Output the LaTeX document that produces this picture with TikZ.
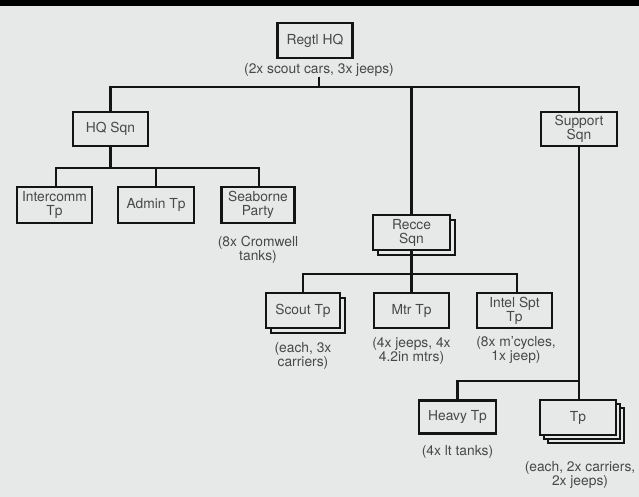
\documentclass[tikz,border=0pt]{standalone}
\usepackage{fontspec}
\setmainfont{TeX Gyre Heros}
\usetikzlibrary{shadows}
\definecolor{bg}{RGB}{230,233,231}
\definecolor{txt}{RGB}{72,72,72}
\definecolor{ink}{RGB}{20,20,20}
\begin{document}
\begin{tikzpicture}[x=1pt,y=-1pt,
  unit/.style={draw=ink,line width=2.2pt,fill=bg,text=txt,align=center,inner sep=0pt,
    minimum width=75pt,minimum height=35pt,font=\fontsize{13.8}{14}\selectfont},
  one/.style={copy shadow={shadow xshift=5pt,shadow yshift=-5pt}},
  two/.style={double copy shadow={shadow xshift=4pt,shadow yshift=-4pt}},
  note/.style={text=txt,align=center,inner sep=0pt,font=\fontsize{13.8}{14}\selectfont},
  link/.style={draw=ink,line width=2.2pt}]
\fill[bg] (0,0) rectangle (639,497);
\fill[black] (0,0) rectangle (639,6);
\useasboundingbox (0,0) rectangle (639,497);
\coordinate (b1) at (0,87);
\coordinate (b2) at (0,168);
\coordinate (b3) at (0,274);
\coordinate (b4) at (0,381);
% nodes
\node[unit] (hq) at (315,40.5) {Regtl HQ};
\node[note] (hqlab) at (319,70) {(2x scout cars, 3x jeeps)};
\node[unit,minimum height=34pt] (hqsqn) at (110.5,129) {HQ Sqn};
\node[unit,minimum width=76pt,minimum height=34pt] (support) at (579,129) {Support\\Sqn};
\node[unit,minimum width=77pt,one] (recce) at (411.5,232.5) {Recce\\Sqn};
\node[unit,minimum height=36pt] (intercomm) at (54.5,205) {Intercomm\\Tp};
\node[unit,minimum width=76pt,minimum height=36pt] (admin) at (156,205) {Admin Tp};
\node[unit,minimum width=73pt,minimum height=36pt] (seaborne) at (258,205) {Seaborne\\Party};
\node[note] (seabornelab) at (258,249.5) {(8x Cromwell\\tanks)};
\node[unit,minimum width=74pt,one] (scout) at (303,310.5) {Scout Tp};
\node[note] (scoutlab) at (303,355.5) {(each, 3x\\carriers)};
\node[unit] (mtr) at (411.5,310.5) {Mtr Tp};
\node[note] (mtrlab) at (411.5,350.5) {(4x jeeps, 4x\\4.2in mtrs)};
\node[unit] (intel) at (514.5,310.5) {Intel Spt\\Tp};
\node[note] (intellab) at (516,349.5) {(8x m'cycles,\\1x jeep)};
\node[unit,minimum width=77pt,minimum height=33pt] (heavy) at (457.5,417) {Heavy Tp};
\node[note] (heavylab) at (457.5,452) {(4x lt tanks)};
\node[unit,minimum width=76pt,two] (tp) at (578,417.5) {Tp};
\node[note] (tplab) at (580,474.5) {(each, 2x carriers,\\2x jeeps)};
% connectors
\draw[link] (hqlab.south) -- (hqlab.south |- b1);
\draw[link] (hqsqn.north) |- (support.north |- b1) -- (support.north);
\draw[link] (recce.north) -- (recce.north |- b1);
\draw[link] (hqsqn.south) -- (hqsqn.south |- b2);
\draw[link] ([xshift=1.5pt]intercomm.north) |- ([xshift=1pt]seaborne.north |- b2) -- ([xshift=1pt]seaborne.north);
\draw[link] (admin.north) -- (admin.north |- b2);
\draw[link] (recce.south) -- (recce.south |- b3);
\draw[link] (scout.north) |- ([xshift=2.5pt]intel.north |- b3) -- ([xshift=2.5pt]intel.north);
\draw[link] (mtr.north) -- (mtr.north |- b3);
\draw[link] (support.south) -- ([xshift=1pt]tp.north);
\draw[link] (heavy.north) |- ([xshift=1pt]tp.north |- b4);
\end{tikzpicture}
\end{document}
